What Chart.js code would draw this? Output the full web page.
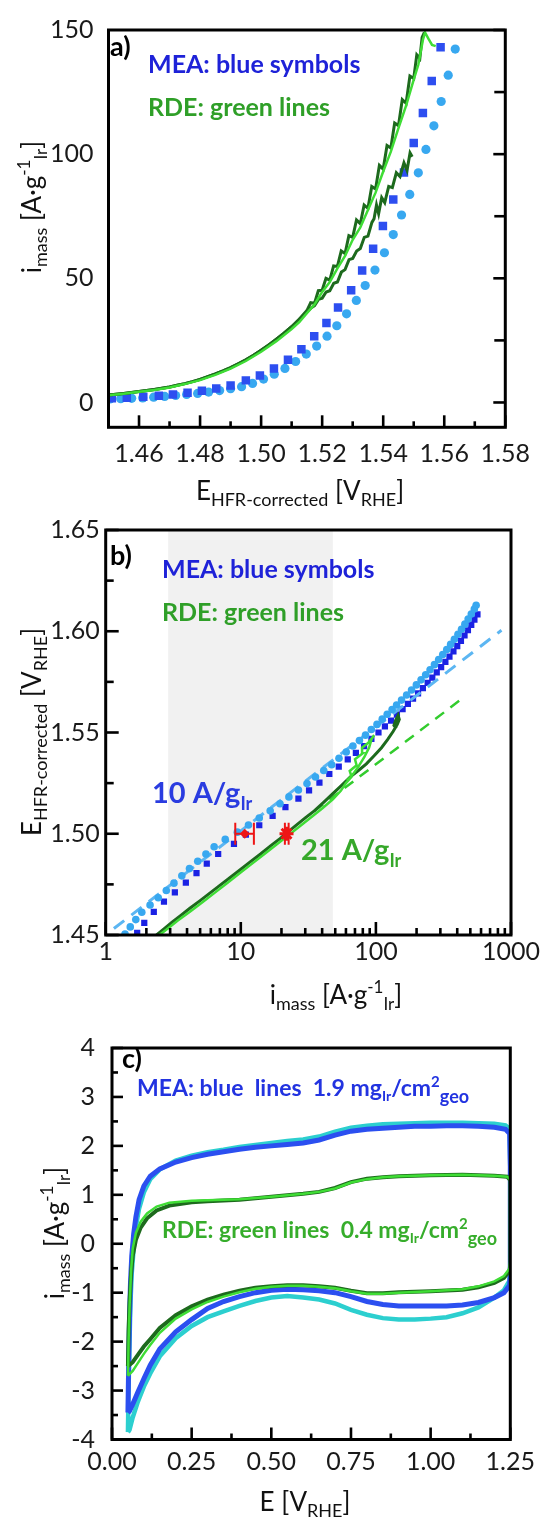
<!DOCTYPE html>
<html>
<head>
<meta charset="utf-8">
<script src="https://cdn.jsdelivr.net/npm/chart.js@4.4.1/dist/chart.umd.min.js"></script>
<style>
  html, body { margin: 0; padding: 0; background: #fff; }
  #wrap { position: relative; width: 542px; height: 1519px; overflow: hidden; }
  #wrap canvas { position: absolute; left: 0; }
</style>
</head>
<body>
<div id="wrap">
  <canvas id="chart_a" width="542" height="508" style="top:0;width:542px;height:508px"></canvas>
  <canvas id="chart_b" width="542" height="508" style="top:508px;width:542px;height:508px"></canvas>
  <canvas id="chart_c" width="542" height="503" style="top:1016px;width:542px;height:503px"></canvas>
</div>
<script>
// ---------- MEA polarisation points (shared by panels a and b) ----------
const mea_circ_e = [1.4505, 1.4540, 1.4576, 1.4612, 1.4648, 1.4684, 1.4720, 1.4756, 1.4792, 1.4828, 1.4864, 1.4900, 1.4936, 1.4972, 1.5008, 1.5043, 1.5078, 1.5113, 1.5148, 1.5182, 1.5216, 1.5248, 1.5280, 1.5312, 1.5341, 1.5373, 1.5404, 1.5433, 1.5460, 1.5487, 1.5515, 1.5540, 1.5566, 1.5590, 1.5613, 1.5636, 1.5660, 1.5685, 1.5710, 1.5735, 1.5760, 1.5785, 1.5810, 1.5835, 1.5860, 1.5885, 1.5910, 1.5935, 1.5960, 1.5985, 1.6010, 1.6035, 1.6060, 1.6085, 1.6110, 1.6128];
const mea_circ_i = [1.39, 1.52, 1.67, 1.85, 2.13, 2.45, 2.81, 3.20, 3.66, 4.17, 4.80, 5.52, 6.35, 7.67, 9.43, 11.4, 13.7, 16.5, 19.5, 22.7, 26.7, 30.9, 35.7, 41.1, 47.1, 53.3, 60.3, 67.6, 75.5, 83.8, 92.5, 101.9, 111.4, 121.2, 131.8, 142.3, 154.8, 168.8, 183.6, 199.3, 216, 233.5, 251.8, 271.3, 291.5, 312.6, 334.6, 357.4, 380.9, 405.1, 430.1, 455.8, 481.8, 508.3, 535.2, 552];
const mea_sq_e = [1.4511, 1.4560, 1.4614, 1.4665, 1.4711, 1.4759, 1.4806, 1.4853, 1.4900, 1.4950, 1.4996, 1.5042, 1.5088, 1.5132, 1.5174, 1.5214, 1.5252, 1.5295, 1.5331, 1.5367, 1.5399, 1.5433, 1.5468, 1.5500, 1.5530, 1.5559, 1.5588, 1.5615, 1.5641, 1.5667, 1.5693, 1.5719, 1.5745, 1.5771, 1.5797, 1.5823, 1.5849, 1.5875, 1.5901, 1.5927, 1.5953, 1.5979, 1.6005, 1.6031, 1.6057, 1.6083];
const mea_sq_i = [1.71, 1.93, 2.27, 2.70, 3.25, 3.92, 4.70, 5.60, 6.80, 8.90, 10.9, 13.7, 17.2, 21.4, 26.7, 32.0, 38.2, 45.2, 53.1, 61.9, 71.1, 81.7, 92.6, 104.5, 116.6, 129.5, 143.1, 157.6, 172.5, 188.3, 205.1, 222.8, 241.6, 261.5, 282.1, 304, 326.8, 350.3, 374.9, 400, 426.1, 452.9, 480, 507.9, 536.1, 564.7];

// ---------- RDE traces, panel a (E, i_mass) ----------
const rde_a_base_e = [1.4500, 1.4525, 1.4550, 1.4575, 1.4600, 1.4625, 1.4650, 1.4675, 1.4700, 1.4725, 1.4750, 1.4775, 1.4800, 1.4825, 1.4850, 1.4875, 1.4900, 1.4925, 1.4950, 1.4975, 1.5000, 1.5025, 1.5050, 1.5075, 1.5100, 1.5125];
const rde_a_base_i = [3.0, 3.3, 3.6, 4.0, 4.4, 4.8, 5.2, 5.7, 6.2, 6.9, 7.6, 8.4, 9.3, 10.4, 11.5, 12.7, 14.0, 15.6, 17.2, 19.0, 21.0, 23.2, 25.5, 27.9, 30.5, 33.5];
const rde_a_top_e = [1.51500, 1.51625, 1.51750, 1.51875, 1.52000, 1.52125, 1.52250, 1.52375, 1.52500, 1.52625, 1.52750, 1.52875, 1.53000, 1.53125, 1.53250, 1.53375, 1.53500, 1.53625, 1.53750, 1.53875, 1.54000, 1.54125, 1.54250, 1.54375, 1.54500, 1.54625, 1.54750, 1.54875, 1.55000, 1.55100, 1.55200, 1.55275, 1.55350];
const rde_a_top_i = [37.0, 40.2, 40.0, 45.0, 45.2, 50.0, 49.3, 55.0, 54.8, 61.0, 60.0, 67.2, 66.5, 73.5, 72.0, 79.5, 78.2, 87.0, 86.0, 95.5, 94.0, 103.5, 102.5, 112.5, 111.5, 122.0, 120.5, 131.5, 130.5, 140.0, 138.5, 147.0, 149.0];
const rde_a_branch_e = [1.5150, 1.5163, 1.5175, 1.5188, 1.5200, 1.5213, 1.5225, 1.5238, 1.5250, 1.5263, 1.5275, 1.5288, 1.5300, 1.5313, 1.5325, 1.5338, 1.5350, 1.5363, 1.5370, 1.5378, 1.5385, 1.5395, 1.5405, 1.5418, 1.5430, 1.5443, 1.5455, 1.5468, 1.5478, 1.5488, 1.5495];
const rde_a_branch_i = [36.5, 38.0, 39.0, 41.5, 42.0, 44.5, 45.0, 48.0, 48.5, 52.5, 53.5, 57.5, 58.0, 61.0, 62.0, 66.5, 67.0, 72.5, 74.0, 79.5, 76.0, 82.5, 80.5, 87.0, 86.5, 92.5, 91.0, 96.5, 93.5, 100.5, 99.0];
const rde_a_light_e = [1.450, 1.455, 1.460, 1.465, 1.470, 1.475, 1.480, 1.485, 1.490, 1.495, 1.500, 1.505, 1.510, 1.5125, 1.515, 1.5175, 1.520, 1.5225, 1.525, 1.5275, 1.530, 1.5325, 1.535, 1.5375, 1.540, 1.5425, 1.545, 1.5475, 1.550, 1.5515, 1.553, 1.5537, 1.5548, 1.5560, 1.5572];
const rde_a_light_i = [2.9, 3.5, 4.3, 5.0, 6.0, 7.4, 9.0, 11.1, 13.6, 16.7, 20.4, 24.7, 29.6, 32.4, 36.0, 39.5, 44.5, 48.5, 54.0, 59.0, 65.5, 70.5, 77.5, 84.5, 93.0, 101.0, 110.5, 119.5, 130.0, 136.0, 146.0, 149.0, 146.5, 144.0, 143.5];

// ---------- RDE traces, panel b (i_mass, E) ----------
const rde_b_dark_i = [2.38, 2.7, 3.1, 3.6, 4.2, 5.0, 5.9, 7.0, 8.3, 9.9, 11.8, 14.0, 16.6, 19.5, 21.8, 25.5, 30, 35, 41, 48, 56, 65, 75, 85, 97, 110, 122, 134, 144, 149, 146, 140, 136, 142];
const rde_b_dark_e = [1.4500, 1.4530, 1.4563, 1.4597, 1.4632, 1.4670, 1.4707, 1.4745, 1.4783, 1.4822, 1.4862, 1.4900, 1.4940, 1.4976, 1.5003, 1.5040, 1.5078, 1.5113, 1.5155, 1.5198, 1.5240, 1.5282, 1.5315, 1.5345, 1.5385, 1.5425, 1.5465, 1.5505, 1.5540, 1.5565, 1.5585, 1.5560, 1.5535, 1.5520];
const rde_b_light_i = [2.5, 2.9, 3.4, 4.2, 5.2, 6.4, 7.9, 9.7, 12, 14.8, 18.2, 22.5, 27.5, 33, 40, 48, 55, 60, 66, 64, 72, 70, 80, 79, 88, 93, 97, 93, 89, 82, 74, 67, 61];
const rde_b_light_e = [1.4500, 1.4533, 1.4570, 1.4615, 1.4662, 1.4708, 1.4755, 1.4802, 1.4850, 1.4897, 1.4944, 1.4992, 1.5038, 1.5080, 1.5125, 1.5170, 1.5212, 1.5250, 1.5282, 1.5310, 1.5338, 1.5368, 1.5398, 1.5425, 1.5450, 1.5470, 1.5487, 1.5468, 1.5425, 1.5378, 1.5330, 1.5290, 1.5262];

// Tafel fits (end points) and activity markers at 1.50 V
const tafel_mea_i = [1.15, 850];
const tafel_mea_e = [1.4532, 1.6005];
const tafel_rde_i = [35, 450];
const tafel_rde_e = [1.5112, 1.5675];
const marker_e = 1.50;
const marker_i = [10.7, 21.8];
const marker_i_lo = [9.1, 21.2];
const marker_i_hi = [12.5, 22.6];
const band_i = [2.9, 48];

// ---------- Cyclic voltammograms, panel c ----------
const cv_mea1_e = [0.050, 0.052, 0.055, 0.058, 0.062, 0.068, 0.075, 0.085, 0.100, 0.120, 0.150, 0.200, 0.250, 0.300, 0.350, 0.400, 0.450, 0.500, 0.550, 0.600, 0.650, 0.700, 0.750, 0.800, 0.850, 0.900, 0.950, 1.000, 1.050, 1.100, 1.150, 1.200, 1.235, 1.248, 1.250, 1.250, 1.250, 1.248, 1.230, 1.200, 1.150, 1.100, 1.050, 1.000, 0.950, 0.900, 0.850, 0.800, 0.750, 0.700, 0.650, 0.600, 0.550, 0.500, 0.450, 0.400, 0.350, 0.300, 0.250, 0.200, 0.150, 0.120, 0.100, 0.080, 0.065, 0.055, 0.050];
const cv_mea1_i = [-3.45, -2.60, -1.50, -0.80, -0.25, 0.20, 0.55, 0.90, 1.18, 1.38, 1.53, 1.67, 1.76, 1.83, 1.88, 1.93, 1.97, 2.00, 2.03, 2.06, 2.12, 2.22, 2.30, 2.34, 2.36, 2.38, 2.40, 2.40, 2.41, 2.41, 2.40, 2.38, 2.34, 2.25, 1.60, 0.40, -0.50, -0.85, -1.00, -1.10, -1.20, -1.25, -1.27, -1.27, -1.27, -1.27, -1.24, -1.18, -1.08, -1.00, -0.96, -0.94, -0.93, -0.95, -1.00, -1.08, -1.18, -1.32, -1.55, -1.80, -2.15, -2.48, -2.76, -3.05, -3.28, -3.42, -3.45];
const cv_mea2_e = cv_mea1_e;
const cv_mea2_i = [-3.85, -3.00, -2.00, -1.20, -0.60, -0.10, 0.35, 0.72, 1.05, 1.32, 1.52, 1.70, 1.80, 1.87, 1.92, 1.98, 2.02, 2.06, 2.10, 2.13, 2.19, 2.29, 2.37, 2.41, 2.44, 2.45, 2.46, 2.47, 2.47, 2.47, 2.46, 2.45, 2.42, 2.35, 1.50, 0.30, -0.40, -0.75, -0.95, -1.10, -1.30, -1.42, -1.50, -1.53, -1.55, -1.55, -1.52, -1.45, -1.35, -1.22, -1.14, -1.10, -1.07, -1.10, -1.17, -1.27, -1.38, -1.50, -1.68, -1.93, -2.30, -2.65, -2.92, -3.25, -3.55, -3.80, -3.85];
const cv_rde1_e = [0.050, 0.052, 0.055, 0.060, 0.065, 0.075, 0.090, 0.110, 0.140, 0.180, 0.250, 0.300, 0.400, 0.500, 0.600, 0.650, 0.700, 0.750, 0.800, 0.850, 0.900, 1.000, 1.100, 1.200, 1.240, 1.250, 1.250, 1.250, 1.248, 1.230, 1.200, 1.150, 1.100, 1.000, 0.900, 0.850, 0.800, 0.750, 0.700, 0.650, 0.600, 0.550, 0.500, 0.450, 0.400, 0.350, 0.300, 0.250, 0.200, 0.150, 0.120, 0.100, 0.080, 0.065, 0.050];
const cv_rde1_i = [-2.50, -1.80, -1.20, -0.60, -0.25, 0.08, 0.33, 0.52, 0.68, 0.78, 0.85, 0.87, 0.90, 0.96, 1.02, 1.06, 1.14, 1.26, 1.33, 1.36, 1.38, 1.40, 1.41, 1.39, 1.37, 1.30, 0.40, -0.40, -0.55, -0.70, -0.80, -0.89, -0.94, -0.97, -0.99, -1.01, -1.01, -0.96, -0.90, -0.87, -0.85, -0.85, -0.87, -0.90, -0.96, -1.04, -1.14, -1.28, -1.46, -1.72, -1.95, -2.10, -2.28, -2.42, -2.50];
const cv_rde2_e = cv_rde1_e;
const cv_rde2_i = [-2.70, -2.00, -1.30, -0.55, -0.10, 0.22, 0.45, 0.62, 0.76, 0.84, 0.88, 0.89, 0.91, 0.96, 1.02, 1.06, 1.13, 1.25, 1.32, 1.36, 1.38, 1.40, 1.41, 1.39, 1.37, 1.32, 0.45, -0.35, -0.50, -0.66, -0.77, -0.87, -0.93, -0.97, -1.00, -1.02, -1.02, -0.97, -0.91, -0.88, -0.86, -0.86, -0.88, -0.92, -0.99, -1.08, -1.19, -1.34, -1.53, -1.82, -2.07, -2.25, -2.45, -2.60, -2.70];

// ---------- tick positions ----------
const a_x_major = [1.46, 1.48, 1.50, 1.52, 1.54, 1.56, 1.58];
const a_x_minor = [1.47, 1.49, 1.51, 1.53, 1.55, 1.57];
const a_y_major = [0, 50, 100, 150];
const a_y_minor = [25, 75, 125];
const b_x_major = [1, 10, 100, 1000];
const b_x_minor = [2, 3, 4, 5, 6, 7, 8, 9, 20, 30, 40, 50, 60, 70, 80, 90, 200, 300, 400, 500, 600, 700, 800, 900];
const b_y_major = [1.45, 1.50, 1.55, 1.60, 1.65];
const b_y_minor = [1.475, 1.525, 1.575, 1.625];
const c_x_major = [0, 0.25, 0.50, 0.75, 1.00, 1.25];
const c_x_minor = [0.125, 0.375, 0.625, 0.875, 1.125];
const c_y_major = [-4, -3, -2, -1, 0, 1, 2, 3, 4];
const c_y_minor = [-3.5, -2.5, -1.5, -0.5, 0.5, 1.5, 2.5, 3.5];

const FONT = 'Lato';
const TICK_SIZE = 25;
const col = {
    sq_a: '#2d4ef0',
    sq_b: '#1b22e4',
    circ: '#38a8f0',
    green_dark: '#1d6a1d',
    green_light: '#3fdd35',
    text_blue: '#1e22d8',
    text_green: '#2f9f28',
    red: '#ee1515',
    cv_blue: '#2b4ff0',
    cv_cyan: '#2ccfcf',
    band: '#f1f1f1',
};

Chart.defaults.font.family = FONT;
Chart.defaults.color = '#1a1a1a';

function pts(xs, ys) {
    return xs.map((x, k) => ({ x: x, y: ys[k] }));
}

function line_set(data, color, width, order, extra) {
    return Object.assign({
        data: data,
        showLine: true,
        borderColor: color,
        borderWidth: width,
        pointRadius: 0,
        tension: 0,
        fill: false,
        order: order,
    }, extra || {});
}

function mark_set(data, color, style, radius, order) {
    return {
        data: data,
        showLine: false,
        pointStyle: style,
        pointRadius: radius,
        pointBackgroundColor: color,
        pointBorderColor: color,
        pointBorderWidth: 0,
        backgroundColor: color,
        borderColor: color,
        order: order,
    };
}

// text made of runs: [text, size, dy]
function draw_rich(ctx, runs, x, y, opt) {
    const weight = opt.bold ? 'bold ' : '';
    ctx.save();
    ctx.translate(x, y);
    if (opt.rot) ctx.rotate(opt.rot);
    ctx.fillStyle = opt.color || '#111';
    ctx.textBaseline = 'alphabetic';
    ctx.textAlign = 'left';
    let total = 0;
    for (const r of runs) {
        ctx.font = weight + r[1] + 'px ' + FONT;
        total += ctx.measureText(r[0]).width;
    }
    let cx = opt.center ? -total / 2 : 0;
    for (const r of runs) {
        ctx.font = weight + r[1] + 'px ' + FONT;
        ctx.fillText(r[0], cx, r[2] || 0);
        cx += ctx.measureText(r[0]).width;
    }
    ctx.restore();
}

// frame, inward ticks, shaded band and labels for one panel
function make_decor(spec) {
    return {
        id: 'decor_' + spec.name,
        beforeDatasetsDraw(chart) {
            if (!spec.band) return;
            const { ctx, chartArea } = chart;
            const sx = chart.scales.x;
            const x0 = sx.getPixelForValue(spec.band[0]);
            const x1 = sx.getPixelForValue(spec.band[1]);
            ctx.save();
            ctx.fillStyle = col.band;
            ctx.fillRect(x0, chartArea.top, x1 - x0, chartArea.bottom - chartArea.top);
            ctx.restore();
        },
        afterDatasetsDraw(chart) {
            const { ctx, chartArea: area } = chart;
            ctx.save();
            ctx.strokeStyle = '#000';
            ctx.lineWidth = 2.6;
            for (const m of spec.marks) {
                const scale = chart.scales[m.axis];
                const groups = [[m.major, m.major_len], [m.minor, m.minor_len]];
                for (const g of groups) {
                    for (const v of g[0]) {
                        const p = scale.getPixelForValue(v);
                        ctx.beginPath();
                        if (m.side === 'bottom') {
                            ctx.moveTo(p, area.bottom);
                            ctx.lineTo(p, area.bottom - g[1]);
                        } else if (m.side === 'left') {
                            ctx.moveTo(area.left, p);
                            ctx.lineTo(area.left + g[1], p);
                        } else {
                            ctx.moveTo(area.right, p);
                            ctx.lineTo(area.right - g[1], p);
                        }
                        ctx.stroke();
                    }
                }
            }
            ctx.lineWidth = 3;
            ctx.strokeRect(area.left, area.top, area.right - area.left, area.bottom - area.top);
            ctx.restore();
        },
        afterDraw(chart) {
            for (const t of spec.texts) {
                draw_rich(chart.ctx, t.runs, t.x, t.y, t);
            }
        },
    };
}

function axis(type, min, max, ticks_list, fmt, pad, fit) {
    return {
        type: type,
        min: min,
        max: max,
        afterBuildTicks: (s) => { s.ticks = ticks_list.map((v) => ({ value: v })); },
        afterFit: fit,
        grid: { display: false, drawTicks: false },
        border: { display: false },
        ticks: {
            autoSkip: false,
            maxRotation: 0,
            padding: pad,
            font: { family: FONT, size: TICK_SIZE },
            color: '#1a1a1a',
            callback: fmt,
        },
    };
}

const fix2 = (v) => Number(v).toFixed(2);
const plain = (v) => String(v);

const title_imass = [['i', 26, 0], ['mass', 18, 6], [' [A·g', 26, 0], ['-1', 17, -11], ['Ir', 17, 6], [']', 26, 0]];
const title_ehfr = [['E', 26, 0], ['HFR-corrected', 18, 6], [' [V', 26, 0], ['RHE', 18, 6], [']', 26, 0]];
const title_erhe = [['E [V', 26, 0], ['RHE', 18, 6], [']', 26, 0]];

function base_options(padding, scales) {
    return {
        responsive: false,
        animation: false,
        events: [],
        devicePixelRatio: 1,
        layout: { padding: padding },
        plugins: { legend: { display: false }, tooltip: { enabled: false } },
        scales: scales,
    };
}

// ---------- panel a ----------
new Chart(document.getElementById('chart_a').getContext('2d'), {
    type: 'scatter',
    data: {
        datasets: [
            line_set(pts(rde_a_light_e, rde_a_light_i), col.green_light, 2.5, 1),
            line_set(pts(rde_a_base_e.concat(rde_a_top_e), rde_a_base_i.concat(rde_a_top_i)), col.green_dark, 3, 2),
            line_set(pts(rde_a_base_e.concat(rde_a_branch_e), rde_a_base_i.concat(rde_a_branch_i)), col.green_dark, 3, 3),
            mark_set(pts(mea_sq_e, mea_sq_i), col.sq_a, 'rect', 6, 4),
            mark_set(pts(mea_circ_e, mea_circ_i), col.circ, 'circle', 4.6, 5),
        ],
    },
    options: base_options({ left: 0, right: 28, top: 23.3, bottom: 20.7 }, {
        x: axis('linear', 1.45, 1.58, a_x_major, fix2, 12, (s) => { s.height = 60; }),
        y: axis('linear', -10, 150, a_y_major, plain, 15, (s) => { s.width = 108.5; }),
    }),
    plugins: [make_decor({
        name: 'a',
        marks: [
            { axis: 'x', side: 'bottom', major: a_x_major, minor: a_x_minor, major_len: 12, minor_len: 6 },
            { axis: 'y', side: 'right', major: a_y_major, minor: a_y_minor, major_len: 12, minor_len: 11 },
        ],
        texts: [
            { runs: [['a)', 27, 0]], x: 110, y: 56, bold: true, color: '#000' },
            { runs: [['MEA: blue symbols', 25, 0]], x: 148, y: 73, bold: true, color: col.text_blue },
            { runs: [['RDE: green lines', 25, 0]], x: 148, y: 116, bold: true, color: col.text_green },
            { runs: title_imass, x: 41, y: 207, rot: -Math.PI / 2, center: true, color: '#111' },
            { runs: title_ehfr, x: 300, y: 500, center: true, color: '#111' },
        ],
    })],
});

// ---------- panel b ----------
const red_bars = marker_i.map((c, k) => line_set(pts([marker_i_lo[k], marker_i_hi[k]], [marker_e, marker_e]), col.red, 2, 0.3));
const red_caps = {
    data: pts(marker_i_lo.concat(marker_i_hi), marker_i_lo.concat(marker_i_hi).map(() => marker_e)),
    showLine: false,
    pointStyle: 'line',
    pointRotation: 90,
    pointRadius: 11,
    pointBorderWidth: 2,
    pointBorderColor: col.red,
    borderColor: col.red,
    order: 0.2,
};
const red_mea = mark_set([{ x: marker_i[0], y: marker_e }], col.red, 'rectRot', 5, 0.1);
const red_rde = {
    data: [{ x: marker_i[1], y: marker_e }],
    showLine: false,
    pointStyle: 'star',
    pointRadius: 7,
    pointBorderWidth: 3,
    pointBorderColor: col.red,
    borderColor: col.red,
    order: 0.1,
};

new Chart(document.getElementById('chart_b').getContext('2d'), {
    type: 'scatter',
    data: {
        datasets: [
            red_mea, red_rde, red_caps,
            ...red_bars,
            line_set(pts(rde_b_light_i, rde_b_light_e), col.green_light, 2.5, 1),
            line_set(pts(rde_b_dark_i, rde_b_dark_e), col.green_dark, 3, 2),
            line_set(pts(tafel_rde_i, tafel_rde_e), '#33cc2e', 2.5, 3, { borderDash: [11, 8] }),
            mark_set(pts(mea_circ_i, mea_circ_e), col.circ, 'circle', 3.8, 4),
            line_set(pts(tafel_mea_i, tafel_mea_e), '#5cb6f2', 3, 5, { borderDash: [13, 9] }),
            mark_set(pts(mea_sq_i, mea_sq_e), col.sq_b, 'rect', 4.4, 6),
        ],
    },
    options: base_options({ left: 0, right: 30.5, top: 22, bottom: 21 }, {
        x: axis('logarithmic', 1, 1000, b_x_major, plain, 2, (s) => { s.height = 60; }),
        y: axis('linear', 1.45, 1.65, b_y_major, fix2, 6, (s) => { s.width = 105.7; }),
    }),
    plugins: [make_decor({
        name: 'b',
        band: band_i,
        marks: [
            { axis: 'x', side: 'bottom', major: b_x_major, minor: b_x_minor, major_len: 13, minor_len: 7 },
            { axis: 'y', side: 'left', major: b_y_major, minor: b_y_minor, major_len: 13, minor_len: 8 },
        ],
        texts: [
            { runs: [['b)', 27, 0]], x: 110, y: 57, bold: true, color: '#000' },
            { runs: [['MEA: blue symbols', 25, 0]], x: 162, y: 70, bold: true, color: col.text_blue },
            { runs: [['RDE: green lines', 25, 0]], x: 162, y: 113, bold: true, color: col.text_green },
            { runs: [['10 A/g', 29, 0], ['Ir', 18, 7]], x: 152, y: 295, bold: true, color: '#2a3ce0' },
            { runs: [['21 A/g', 29, 0], ['Ir', 18, 7]], x: 301, y: 352, bold: true, color: '#36a82a' },
            { runs: title_ehfr, x: 41, y: 224, rot: -Math.PI / 2, center: true, color: '#111' },
            { runs: title_imass, x: 336, y: 496, center: true, color: '#111' },
        ],
    })],
});

// ---------- panel c ----------
new Chart(document.getElementById('chart_c').getContext('2d'), {
    type: 'scatter',
    data: {
        datasets: [
            line_set(pts(cv_rde2_e, cv_rde2_i), col.green_light, 2.5, 1),
            line_set(pts(cv_rde1_e, cv_rde1_i), col.green_dark, 4, 2),
            line_set(pts(cv_mea1_e, cv_mea1_i), col.cv_blue, 5, 3),
            line_set(pts(cv_mea2_e, cv_mea2_i), col.cv_cyan, 4.5, 4),
        ],
    },
    options: base_options({ left: 0, right: 28, top: 17.5, bottom: 19.5 }, {
        x: axis('linear', 0, 1.25, c_x_major, fix2, 7, (s) => { s.height = 60; }),
        y: axis('linear', -4, 4, c_y_major, plain, 17, (s) => { s.width = 112; }),
    }),
    plugins: [make_decor({
        name: 'c',
        marks: [
            { axis: 'x', side: 'bottom', major: c_x_major, minor: c_x_minor, major_len: 12, minor_len: 6 },
            { axis: 'y', side: 'left', major: c_y_major, minor: c_y_minor, major_len: 11, minor_len: 6 },
        ],
        texts: [
            { runs: [['c)', 27, 0]], x: 122, y: 52, bold: true, color: '#000' },
            { runs: [['MEA: blue  lines  1.9 mg', 23, 0], ['Ir', 14, 5], ['/cm', 23, 0], ['2', 15, -9], ['geo', 18, 7]], x: 137, y: 80, bold: true, color: '#2233e0' },
            { runs: [['RDE: green lines  0.4 mg', 23, 0], ['Ir', 14, 5], ['/cm', 23, 0], ['2', 15, -9], ['geo', 18, 7]], x: 162, y: 222, bold: true, color: '#36ad2b' },
            { runs: title_imass, x: 64, y: 217, rot: -Math.PI / 2, center: true, color: '#111' },
            { runs: title_erhe, x: 305, y: 495, center: true, color: '#111' },
        ],
    })],
});
</script>
</body>
</html>
